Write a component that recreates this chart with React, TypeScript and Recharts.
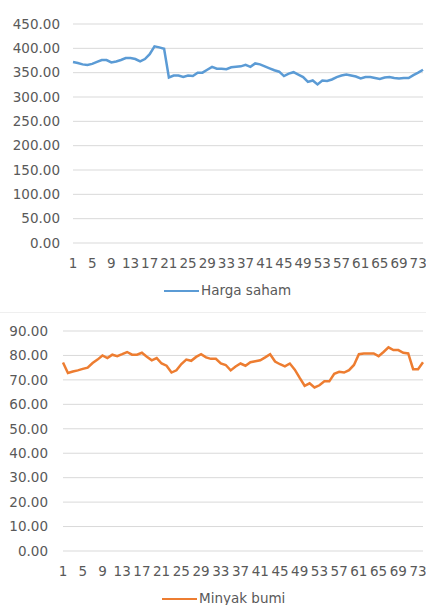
import React from "react";
import { LineChart, Line, XAxis, YAxis, CartesianGrid, Legend } from "recharts";

const categories = [
  1, 2, 3, 4, 5, 6, 7, 8, 9, 10, 11, 12, 13, 14, 15, 16, 17, 18, 19, 20,
  21, 22, 23, 24, 25, 26, 27, 28, 29, 30, 31, 32, 33, 34, 35, 36, 37, 38, 39, 40,
  41, 42, 43, 44, 45, 46, 47, 48, 49, 50, 51, 52, 53, 54, 55, 56, 57, 58, 59, 60,
  61, 62, 63, 64, 65, 66, 67, 68, 69, 70, 71, 72, 73, 74,
];

const hargaSaham = [
  372, 370, 367, 366, 368, 372, 376, 376, 371, 373, 376, 380, 380, 378, 373, 378, 388, 404, 402, 399,
  340, 344, 344, 341, 344, 343, 350, 350, 356, 362, 358, 358, 357, 361, 362, 363, 366, 362, 369, 367,
  363, 359, 355, 352, 343, 348, 351, 346, 341, 331, 334, 326, 334, 333, 336, 341, 344, 346, 344, 342,
  338, 341, 341, 339, 337, 340, 341, 339, 338, 339, 339, 345, 350, 356,
];

const minyakBumi = [
  77.1, 72.8, 73.4, 73.9, 74.5, 75.0, 76.9, 78.3, 80.0, 78.9, 80.3, 79.7, 80.5, 81.4, 80.3, 80.3, 81.1, 79.5, 78.0, 78.9,
  76.7, 75.8, 73.0, 73.9, 76.5, 78.3, 77.8, 79.4, 80.5, 79.2, 78.6, 78.6, 76.7, 76.1, 73.9, 75.5, 76.7, 75.8, 77.2, 77.6,
  78.0, 79.2, 80.5, 77.5, 76.4, 75.5, 76.7, 74.2, 70.8, 67.6, 68.6, 66.9, 67.8, 69.4, 69.4, 72.5, 73.3, 73.0, 74.0, 76.1,
  80.5, 80.8, 80.8, 80.8, 79.7, 81.4, 83.3, 82.2, 82.2, 81.1, 80.8, 74.4, 74.4, 77.2,
];

const sahamTicks = [0, 50, 100, 150, 200, 250, 300, 350, 400, 450];
const minyakTicks = [0, 10, 20, 30, 40, 50, 60, 70, 80, 90];

const sahamData = categories.map((c, i) => ({ name: String(c), value: hargaSaham[i] }));
const minyakData = categories.map((c, i) => ({ name: String(c), value: minyakBumi[i] }));

const FONT = "'DejaVu Sans', sans-serif";
const TEXT = "#595959";
const tickStyle = { fontSize: 13.5, fill: TEXT, fontFamily: FONT };

function makeLegend(lineLeft: number) {
  return (props: any) => {
    const item = props.payload && props.payload[0];
    if (!item) return null;
    return (
      <div style={{ width: 426, height: 20, position: "relative", fontFamily: FONT, fontSize: 13.5, color: TEXT }}>
        <div style={{ position: "absolute", left: lineLeft, top: 9, width: 35, height: 0, borderTop: `2.5px solid ${item.color}` }} />
        <span style={{ position: "absolute", left: lineLeft + 37, top: 1, whiteSpace: "nowrap", lineHeight: "17px" }}>{item.value}</span>
      </div>
    );
  };
}

export default function App() {
  return (
    <div style={{ position: "absolute", left: 0, top: 0, width: 426, height: 605, background: "#fff", overflow: "hidden" }}>
      <div style={{ position: "absolute", left: 0, top: 0 }}>
        <LineChart width={426} height={312} data={sahamData} margin={{ top: 24, right: 3, bottom: 19, left: 0 }}>
          <CartesianGrid horizontal vertical={false} stroke="#D9D9D9" />
          <XAxis dataKey="name" interval={3} axisLine={false} tickLine={false} tickMargin={9} tick={tickStyle} height={30} />
          <YAxis
            domain={[0, 450]}
            ticks={sahamTicks}
            interval={0}
            axisLine={false}
            tickLine={false}
            width={73}
            tickMargin={7}
            tick={tickStyle}
            tickFormatter={(v: number) => v.toFixed(2)}
          />
          <Legend content={makeLegend(164)} wrapperStyle={{ top: 281, left: 0, width: 426, height: 20 }} />
          <Line type="linear" dataKey="value" name="Harga saham" stroke="#5B9BD5" strokeWidth={2.5} dot={false} isAnimationActive={false} />
        </LineChart>
      </div>
      <div style={{ position: "absolute", left: 0, top: 312, width: 426, height: 0, borderTop: "1px solid #EFEFEF" }} />
      <div style={{ position: "absolute", left: 0, top: 312 }}>
        <LineChart width={426} height={293} data={minyakData} margin={{ top: 19, right: 3, bottom: 4, left: 0 }}>
          <CartesianGrid horizontal vertical={false} stroke="#D9D9D9" />
          <XAxis dataKey="name" interval={3} axisLine={false} tickLine={false} tickMargin={9} tick={tickStyle} height={30} />
          <YAxis
            domain={[0, 90]}
            ticks={minyakTicks}
            interval={0}
            axisLine={false}
            tickLine={false}
            width={63}
            tickMargin={9}
            tick={tickStyle}
            tickFormatter={(v: number) => v.toFixed(2)}
          />
          <Legend content={makeLegend(162)} wrapperStyle={{ top: 277, left: 0, width: 426, height: 20 }} />
          <Line type="linear" dataKey="value" name="Minyak bumi" stroke="#ED7D31" strokeWidth={2.5} dot={false} isAnimationActive={false} />
        </LineChart>
      </div>
    </div>
  );
}
